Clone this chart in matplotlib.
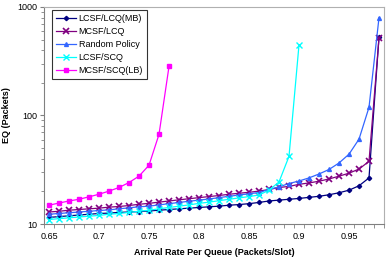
import matplotlib
matplotlib.use('Agg')
from matplotlib import pyplot as plt
import numpy as np

plt.rcParams['font.family'] = ['Liberation Sans', 'DejaVu Sans']

# arrival rate per queue (one category per 0.01)
rates = [0.65, 0.66, 0.67, 0.68, 0.69, 0.70, 0.71, 0.72, 0.73, 0.74, 0.75, 0.76,
         0.77, 0.78, 0.79, 0.80, 0.81, 0.82, 0.83, 0.84, 0.85, 0.86, 0.87, 0.88,
         0.89, 0.90, 0.91, 0.92, 0.93, 0.94, 0.95, 0.96, 0.97, 0.98]

lcsf_lcq = [11.5, 11.7, 11.9, 12.1, 12.3, 12.5, 12.6, 12.8, 12.9, 13.0, 13.2, 13.4,
            13.6, 13.8, 14.0, 14.2, 14.4, 14.6, 14.9, 15.1, 15.4, 15.8, 16.3, 16.6,
            16.9, 17.2, 17.6, 18.0, 18.6, 19.4, 20.5, 22.5, 26.6, 530]
mcsf_lcq = [12.9, 13.1, 13.4, 13.6, 13.8, 14.0, 14.3, 14.5, 14.8, 15.2, 15.5, 15.9,
            16.3, 16.7, 17.1, 17.5, 17.9, 18.3, 18.8, 19.2, 19.6, 20.1, 20.8, 21.7,
            22.2, 23.2, 23.9, 24.8, 26.0, 27.6, 29.4, 32.1, 37.8, 516]
random_pol = [12.3, 12.5, 12.7, 12.9, 13.1, 13.3, 13.5, 13.8, 14.1, 14.4, 14.6, 15.0,
              15.4, 15.8, 16.2, 16.6, 17.0, 17.5, 18.0, 18.5, 19.0, 19.5, 20.8, 22.0,
              23.6, 24.9, 26.6, 28.9, 31.8, 36.5, 44.0, 60.5, 119, 798]
lcsf_scq = [11.0, 11.2, 11.4, 11.6, 11.8, 12.0, 12.3, 12.5, 12.8, 13.1, 13.4, 13.8,
            14.2, 14.6, 15.0, 15.5, 15.9, 16.4, 16.9, 17.4, 17.9, 18.5, 20.5, 24.4,
            42.0, 448]
mcsf_scq = [14.9, 15.6, 16.3, 16.9, 17.8, 18.8, 20.1, 21.7, 24.1, 27.6, 34.8, 67, 283]

fig = plt.figure(figsize=(3.88, 2.57), dpi=100)
ax = fig.add_axes([0.1134, 0.1284, 0.8763, 0.8444])

ax.plot(rates, lcsf_lcq, color='#000080', marker='D', ms=2.2, lw=0.9, label='LCSF/LCQ(MB)')
ax.plot(rates, mcsf_lcq, color='#800080', marker='x', ms=4, mew=1.2, lw=0.9, label='MCSF/LCQ')
ax.plot(rates, random_pol, color='#3366FF', marker='^', ms=2.8, lw=0.9, label='Random Policy')
ax.plot(rates[:len(lcsf_scq)], lcsf_scq, color='#00FFFF', marker='x', ms=4, mew=1.0, lw=0.9, label='LCSF/SCQ')
ax.plot(rates[:len(mcsf_scq)], mcsf_scq, color='#FF00FF', marker='s', ms=2.6, lw=0.9, label='MCSF/SCQ(LB)')

ax.set_yscale('log')
ax.set_ylim(10, 1000)
ax.set_xlim(0.645, 0.985)
ax.set_yticks([10, 100, 1000])
ax.set_yticklabels(['10', '100', '1000'])
ax.set_xticks([0.65, 0.70, 0.75, 0.80, 0.85, 0.90, 0.95])
ax.set_xticklabels(['0.65', '0.7', '0.75', '0.8', '0.85', '0.9', '0.95'])
ax.set_xticks(np.arange(0.645, 0.986, 0.01), minor=True)
ax.tick_params(axis='x', which='major', length=0, pad=6, labelsize=6.5)
ax.tick_params(axis='x', which='minor', length=3, color='#808080')
ax.tick_params(axis='y', which='major', length=3, color='#808080', labelsize=6.5, pad=2)
ax.tick_params(axis='y', which='minor', length=2, color='#808080', labelleft=False)

for s in ax.spines.values():
    s.set_color('#b0b0b0')
ax.spines['left'].set_color('#808080')
ax.spines['bottom'].set_color('#808080')

ax.set_xlabel('Arrival Rate Per Queue (Packets/Slot)', fontsize=6.5, fontweight='bold', labelpad=5)
ax.set_ylabel('EQ (Packets)', fontsize=6.5, fontweight='bold', labelpad=4)

leg = ax.legend(loc='upper left', bbox_to_anchor=(0.025, 0.985), fontsize=6.5,
                frameon=True, fancybox=False, edgecolor='black', borderpad=0.4,
                labelspacing=0.45, handlelength=2.2, handletextpad=0.3, borderaxespad=0)
leg.get_frame().set_linewidth(0.8)

fig.savefig('out.png', dpi=100)
